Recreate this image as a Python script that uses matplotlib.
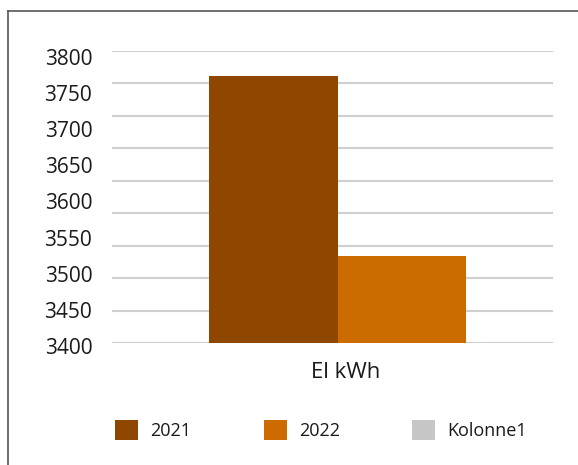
import numpy as np
import matplotlib.pyplot as plt
from matplotlib.patches import Patch
from matplotlib.lines import Line2D

categories = ['El kWh']
series = ['2021', '2022', 'Kolonne1']
values_2021 = [3766]
values_2022 = [3519]
colors = ['#8f4700', '#cc6b00', '#c6c6c6']
yticks = [3400, 3450, 3500, 3550, 3600, 3650, 3700, 3750, 3800]

plt.rcParams['font.family'] = ['Open Sans', 'DejaVu Sans']
text_color = '#1a1a1a'

fig = plt.figure(figsize=(5.78, 4.65), dpi=100)
ax = fig.add_axes([0.194, 0.2624, 0.763, 0.6279])

w = 1.0
x = list(range(len(categories)))
ax.bar([i - w / 2 for i in x], values_2021, width=w, color=colors[0], zorder=3)
ax.bar([i + w / 2 for i in x], values_2022, width=w, color=colors[1], zorder=3)

ax.set_xticks([])
ax.set_yticks(np.linspace(3400, 3800, 10))
ax.set_yticklabels([])
ax.set_ylim(3400, 3800)
ax.set_xlim(-1.758, 1.68)
ax.tick_params(axis='both', length=0)
ax.grid(True, axis='y', color='#cfcfcf', linewidth=1.5, zorder=0)
for s in ax.spines.values():
    s.set_visible(False)

# category label sits a bit right of the bar pair in the source
for i, cat in zip(x, categories):
    ax.annotate(cat, xy=(i, 0), xycoords=ax.get_xaxis_transform(),
                xytext=(6, -13.5), textcoords='offset points',
                ha='center', va='top', fontsize=16, color=text_color)

# the source render spreads the labels a little wider than its 10 gridlines
label_pos = np.linspace(3396, 3792, len(yticks))
for pos, t in zip(label_pos, yticks):
    ax.text(-0.045, pos, str(t), transform=ax.get_yaxis_transform(),
            ha='right', va='center_baseline', fontsize=15, color=text_color)

handles = [Patch(facecolor=c, edgecolor='none') for c in colors]
fig.legend(handles, series, loc='center left', bbox_to_anchor=(0.171, 0.075),
           ncol=3, frameon=False, fontsize=13, handlelength=1.28, handleheight=1.28,
           handletextpad=0.67, columnspacing=4.0, labelcolor=text_color)

# outer frame (top and left edges visible)
fig.add_artist(Line2D([8 / 578, 1.0], [1 - 11 / 465, 1 - 11 / 465],
                      transform=fig.transFigure, color='#555555', linewidth=1.2))
fig.add_artist(Line2D([8 / 578, 8 / 578], [0, 1 - 11 / 465],
                      transform=fig.transFigure, color='#555555', linewidth=1.2))

fig.savefig('out.png', dpi=100)
